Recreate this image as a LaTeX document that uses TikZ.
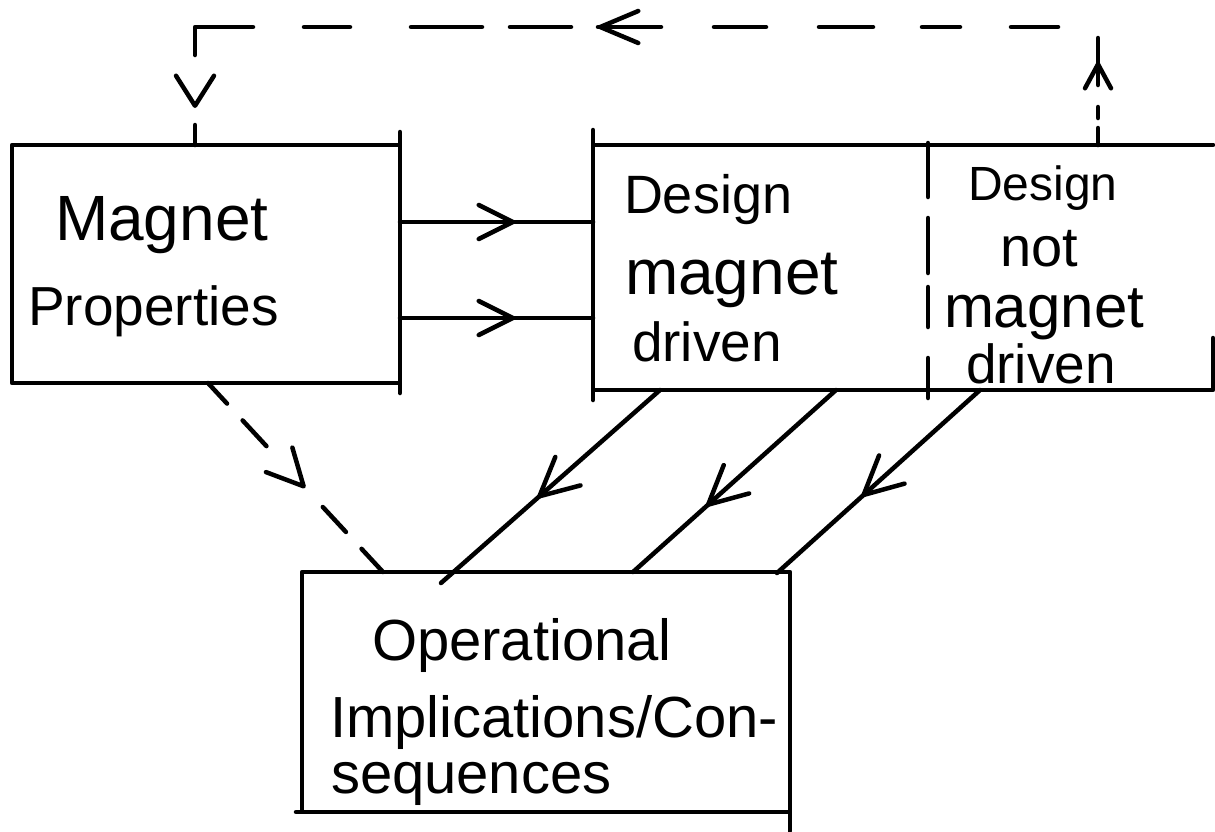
\documentclass[tikz,border=0pt]{standalone}
\usepackage{fontspec}
\setmainfont{Liberation Sans}
\usetikzlibrary{arrows.meta,decorations.markings,calc}
\newcommand{\hsz}[1]{\fontsize{#1}{#1}\selectfont}
\tikzset{
  ln/.style={line width=4.5pt, line cap=round, line join=round},
  box/.style={ln, draw, rectangle, inner sep=0pt, outer sep=0pt, anchor=north west},
  lbl/.style={inner sep=0pt, outer sep=0pt, anchor=base west},
  marr/.style 2 args={postaction={decorate}, decoration={markings,
      mark=at position #1 with {\arrow{Straight Barb[length=#2, width=#2, round]}}}},
}
\begin{document}
\begin{tikzpicture}[x=1pt,y=-1pt]
\useasboundingbox (0,0) rectangle (1215,831);

% boxes
\node[box, minimum width=388pt, minimum height=238pt] (mag) at (12,145) {};
\node[box, draw=none, minimum width=620pt, minimum height=245pt] (des) at (593,145) {};
\node[box, minimum width=488pt, minimum height=240pt] (ops) at (302,572) {};

% design box: right side only partly visible at the sheet edge
\draw[ln] ($(des.south east)+(0,-52)$) -- (des.south east) -- (des.south west)
  -- (des.north west) -- (des.north east);

% hand-drawn corner overshoots
\draw[ln] (mag.north east) -- ++(0,-13);
\draw[ln] (mag.south east) -- ++(0,10);
\draw[ln] (des.north west) -- ++(0,-15);
\draw[ln] (des.south west) -- ++(0,10);
\draw[ln] (ops.south east) -- ++(0,19);
\draw[ln] (ops.south west) -- ++(-6,0);

% divider inside design box
\draw[ln, dash pattern=on 54pt off 21pt on 55pt off 14pt on 40pt off 31pt on 40pt off 10pt]
  ($(des.north west)+(335,-2)$) -- ($(des.south west)+(335,8)$);

% texts
\node[lbl, font=\hsz{64}] (t11) at (55,240) {Magnet};
\node[lbl, font=\hsz{55}] (t12) at (28,325) {Properties};
\node[lbl, font=\hsz{54}] (t21) at (624,213) {Design};
\node[lbl, font=\hsz{64}] (t22) at (625,294) {magnet};
\node[lbl, font=\hsz{55}] (t23) at (632,361) {driven};
\node[lbl, font=\hsz{48}] (t31) at (968,200) {Design};
\node[lbl, font=\hsz{56}] (t32) at (1000,266) {not};
\node[lbl, font=\hsz{60}] (t33) at (944,327) {magnet};
\node[lbl, font=\hsz{55}] (t34) at (966,383) {driven};
\node[lbl, font=\hsz{58}] (t41) at (372,660) {Operational};
\node[lbl, font=\hsz{58}] (t42) at (330,737) {Implications/Con-};
\node[lbl, font=\hsz{58}] (t43) at (331,793) {sequences};

% magnet -> design
\draw[ln, marr={115pt}{34pt}] (mag.east |- 0,222) -- (des.west |- 0,222);
\draw[ln, marr={115pt}{34pt}] (mag.east |- 0,318) -- (des.west |- 0,318);

% design -> operational
\draw[ln, marr={163pt}{38pt}] ($(des.south west)+(67,0)$) -- ($(ops.north west)+(139,11)$);
\draw[ln, marr={174pt}{38pt}] ($(des.south west)+(243,0)$) -- ($(ops.north west)+(331,0)$);
\draw[ln, marr={159pt}{38pt}] ($(des.south west)+(387,0)$) -- ($(ops.north west)+(475,1)$);

% magnet -> operational (dashed)
\draw[ln, dash pattern=on 28pt off 23pt on 35pt off 83pt on 34pt off 23pt on 32pt off 10pt,
      marr={143pt}{36pt}]
  ($(mag.south west)+(196,0)$) -- ($(ops.north west)+(81,0)$);

% feedback loop: design -> magnet (dashed)
\draw[ln, dash pattern=on 20pt off 70pt on 86pt off 51pt on 46pt off 61pt on 71pt off 28pt
      on 61pt off 27pt on 63pt off 53pt on 52pt off 53pt on 54pt off 49pt on 38pt off 51pt
      on 47pt off 51pt on 47pt off 22pt on 11pt off 10pt on 17pt off 10pt,
      postaction={decorate}, decoration={markings,
        mark=at position 37pt with {\arrowreversed{Straight Barb[length=30pt, width=38pt, round]}},
        mark=at position 521pt with {\arrowreversed{Straight Barb[length=38pt, width=32pt, round]}},
        mark=at position 1056pt with {\arrowreversed{Straight Barb[length=24pt, width=26pt, round]}}}]
  ($(mag.north west)+(183,0)$) -- ++(0,-118) -| ($(des.north west)+(505,0)$);
\end{tikzpicture}
\end{document}
